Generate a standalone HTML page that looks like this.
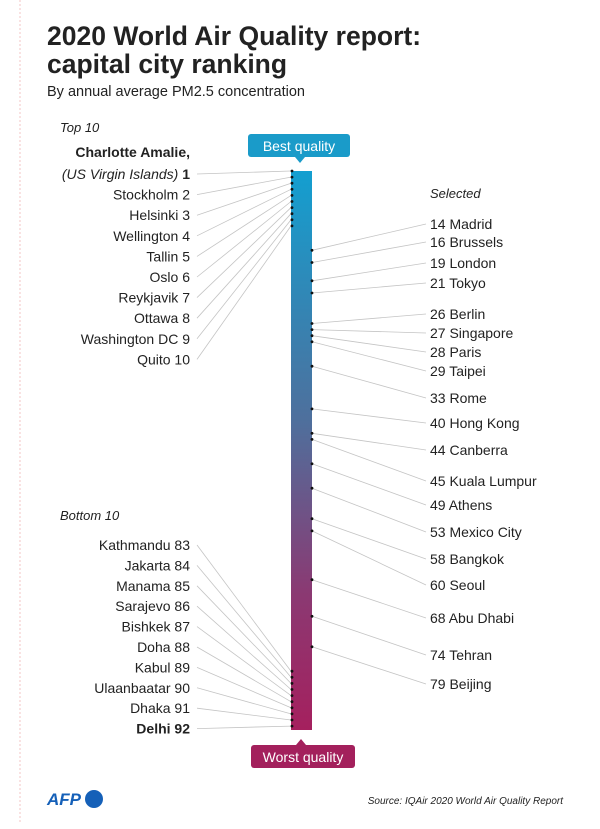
<!DOCTYPE html>
<html><head><meta charset="utf-8"><style>
body{margin:0;background:#fff;}
svg text{font-family:"Liberation Sans",sans-serif;fill:#222;}
</style></head><body>
<svg width="600" height="824" viewBox="0 0 600 824">
<defs>
<linearGradient id="g" x1="0" y1="0" x2="0" y2="1">
<stop offset="0" stop-color="#139fd0"/>
<stop offset="0.45" stop-color="#4f6f9c"/>
<stop offset="0.75" stop-color="#8a3a73"/>
<stop offset="1" stop-color="#a5205e"/>
</linearGradient>
</defs>
<line x1="20" y1="0" x2="20" y2="824" stroke="#f3c6c6" stroke-dasharray="2,2"/>
<text x="47" y="45" font-size="26.5" font-weight="bold" fill="#111">2020 World Air Quality report:</text>
<text x="47" y="73" font-size="26.5" font-weight="bold" fill="#111">capital city ranking</text>
<text x="47" y="96" font-size="14.5">By annual average PM2.5 concentration</text>
<text x="60" y="132" font-size="13" font-style="italic">Top 10</text>
<text x="60" y="520" font-size="13" font-style="italic">Bottom 10</text>
<text x="430" y="198" font-size="13" font-style="italic">Selected</text>
<rect x="291" y="171" width="21" height="559" fill="url(#g)"/>
<g>
<rect x="248" y="134" width="102" height="23" rx="3" fill="#1a9bc9"/>
<polygon points="295,157 305,157 300,163" fill="#1a9bc9"/>
<text x="299" y="151" font-size="14" text-anchor="middle" style="fill:#fff">Best quality</text>
</g>
<g>
<rect x="251" y="745" width="104" height="23" rx="3" fill="#a3205c"/>
<polygon points="296,745 306,745 301,739" fill="#a3205c"/>
<text x="303" y="762" font-size="14" text-anchor="middle" style="fill:#fff">Worst quality</text>
</g>
<g id="marks"></g>
<text x="47" y="805" font-size="17" font-weight="bold" font-style="italic" style="fill:#1560b8">AFP</text>
<circle cx="94" cy="799" r="9" fill="#1560b8"/>
<text x="563" y="804" font-size="10" font-style="italic" text-anchor="end">Source: IQAir 2020 World Air Quality Report</text>
</svg>
<script>
const topNames=["Charlotte Amalie,","Stockholm","Helsinki","Wellington","Tallin","Oslo","Reykjavik","Ottawa","Washington DC","Quito"];
const topRanks=[1,2,3,4,5,6,7,8,9,10];
const bottomNames=["Kathmandu","Jakarta","Manama","Sarajevo","Bishkek","Doha","Kabul","Ulaanbaatar","Dhaka","Delhi"];
const bottomRanks=[83,84,85,86,87,88,89,90,91,92];
const selNames=["Madrid","Brussels","London","Tokyo","Berlin","Singapore","Paris","Taipei","Rome","Hong Kong","Canberra","Kuala Lumpur","Athens","Mexico City","Bangkok","Seoul","Abu Dhabi","Tehran","Beijing"];
const selRanks=[14,16,19,21,26,27,28,29,33,40,44,45,49,53,58,60,68,74,79];
const selLabelY=[224,242,263,283,314,333,352,371,398,423,450,481,505,532,559,585,618,655,684];
const NS="http://www.w3.org/2000/svg";
const g=document.getElementById('marks');
function rankY(r){return 171+(r-1)*6.1;}
function mk(tag,attrs){const e=document.createElementNS(NS,tag);for(const k in attrs)e.setAttribute(k,attrs[k]);g.appendChild(e);return e;}
function leftLabel(name,rank,ly,bold,i,kind){
  const l=mk('line',{x1:197,y1:ly,x2:291,y2:rankY(rank),stroke:'#c4c4c4','stroke-width':0.8});
  
  
  const d=mk('circle',{cx:292,cy:rankY(rank),r:1.4,fill:'#111'});
  
  
  const t=mk('text',{x:190,y:ly+5,'font-size':14,'text-anchor':'end'});
  if(bold)t.setAttribute('font-weight','bold');
  t.textContent=name+' '+rank;
  
  
}
topNames.forEach((n,i)=>{
  let ly=174+i*20.6;
  if(i===0){
    const t=mk('text',{x:190,y:157,'font-size':14,'text-anchor':'end','font-weight':'bold'});
    t.textContent=n;
    
    
    const l=mk('line',{x1:197,y1:ly,x2:291,y2:rankY(topRanks[i]),stroke:'#c4c4c4','stroke-width':0.8});
    
    
    const d=mk('circle',{cx:292,cy:rankY(topRanks[i]),r:1.4,fill:'#111'});
    
    
    const t2=mk('text',{x:190,y:ly+5,'font-size':14,'text-anchor':'end'});
    t2.innerHTML='<tspan font-style="italic">(US Virgin Islands)</tspan> <tspan font-weight="bold">1</tspan>';
    
    
  } else leftLabel(n,topRanks[i],ly,false,i,'top');
});
bottomNames.forEach((n,i)=>leftLabel(n,bottomRanks[i],545+i*20.4,i===9,i,'bottom'));
selNames.forEach((n,i)=>{
  const y=rankY(selRanks[i]),ly=selLabelY[i];
  const l=mk('line',{x1:312,y1:y,x2:426,y2:ly,stroke:'#c4c4c4','stroke-width':0.8});
  
  
  const d=mk('circle',{cx:312,cy:y,r:1.4,fill:'#111'});
  
  
  const t=mk('text',{x:430,y:ly+5,'font-size':14});
  t.textContent=selRanks[i]+' '+n;
  
  
});
</script>
</body></html>
